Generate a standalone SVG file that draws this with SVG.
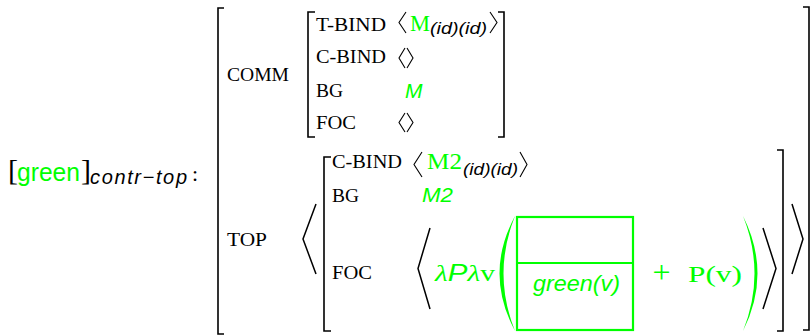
<svg xmlns="http://www.w3.org/2000/svg" width="810" height="336" viewBox="0 0 810 336">
<style>
.sc{font-family:"Liberation Serif",serif;font-size:18.5px;fill:#000}
.rm{font-family:"Liberation Serif",serif}
.ss{font-family:"Liberation Sans",sans-serif}
.it{font-style:italic}
.g{fill:#00ff00}
.k{fill:#000}
.br{fill:none;stroke:#000;stroke-width:1.6}
.ang{fill:none;stroke:#000;stroke-width:1.1}
.bang{fill:none;stroke:#000;stroke-width:1.5}
.box{fill:none;stroke:#00ff00;stroke-width:2.2}
.par{fill:#00ff00;stroke:none}
</style>
<rect width="810" height="336" fill="#fff"/>

<g id="label">
<text class="rm k" x="8" y="180" font-size="30">[</text>
<text class="ss g" x="17" y="181" font-size="25" textLength="63" lengthAdjust="spacingAndGlyphs">green</text>
<text class="rm k" x="81" y="180" font-size="30">]</text>
<text class="ss it k" x="90" y="184" font-size="20" textLength="97" lengthAdjust="spacing">contr−top</text>
<text class="rm k" x="192" y="181" font-size="22">:</text>
</g>

<g id="outer-avm">
<path class="br" d="M224,8 H218 V334 H224"/>
<path class="br" d="M803,7 H809 V330 H803"/>
</g>

<g id="comm">
<text class="sc" x="227" y="81" textLength="62" lengthAdjust="spacingAndGlyphs">COMM</text>
<path class="br" d="M315,12 H308 V137 H315"/>
<path class="br" d="M498,12 H504 V137 H498"/>
<text class="sc" x="316" y="31" textLength="70" lengthAdjust="spacingAndGlyphs">T-BIND</text>
<text class="sc" x="316" y="63" textLength="70" lengthAdjust="spacingAndGlyphs">C-BIND</text>
<text class="sc" x="316" y="97" textLength="27" lengthAdjust="spacingAndGlyphs">BG</text>
<text class="sc" x="316" y="129" textLength="40" lengthAdjust="spacingAndGlyphs">FOC</text>
<polyline class="ang" points="406,12 399,22.5 406,33"/>
<text class="rm g" x="410" y="31" font-size="22.5">M</text>
<text class="ss it k" x="430" y="34" font-size="16" textLength="57" lengthAdjust="spacingAndGlyphs">(id)(id)</text>
<polyline class="ang" points="490,12 497,22.5 490,33"/>
<polyline class="ang" points="405,48 399,58 405,68"/>
<polyline class="ang" points="407,48 413,58 407,68"/>
<text class="ss it g" x="405" y="98" font-size="21">M</text>
<polyline class="ang" points="405,113 399,122.5 405,132"/>
<polyline class="ang" points="407,113 413,122.5 407,132"/>
</g>

<g id="top">
<text class="sc" x="227" y="246" textLength="40" lengthAdjust="spacingAndGlyphs">TOP</text>
<polyline class="bang" points="316,204 303,239 316,274"/>
<polyline class="bang" points="792,204 803,239 792,274"/>
<path class="br" d="M331,157 H324 V331 H331"/>
<path class="br" d="M777,150 H783 V331 H777"/>
<text class="sc" x="332" y="168" textLength="70" lengthAdjust="spacingAndGlyphs">C-BIND</text>
<text class="sc" x="332" y="202" textLength="27" lengthAdjust="spacingAndGlyphs">BG</text>
<text class="sc" x="332" y="279" textLength="40" lengthAdjust="spacingAndGlyphs">FOC</text>
<polyline class="ang" points="422,152 414,164.5 422,177"/>
<text class="rm g" x="427" y="169" font-size="22.5" textLength="35" lengthAdjust="spacingAndGlyphs">M2</text>
<text class="ss it k" x="463" y="175" font-size="16" textLength="55" lengthAdjust="spacingAndGlyphs">(id)(id)</text>
<polyline class="ang" points="520,152 527,164.5 520,177"/>
<text class="ss it g" x="422" y="202" font-size="21" textLength="31" lengthAdjust="spacingAndGlyphs">M2</text>
</g>

<g id="foc-value">
<polyline class="bang" points="430,228 418,268.5 430,309"/>
<text class="g" x="435" y="281" font-size="23" textLength="60" lengthAdjust="spacingAndGlyphs"><tspan class="rm it">λ</tspan><tspan class="ss it">P</tspan><tspan class="rm it">λ</tspan><tspan class="rm">v</tspan></text>
<path class="par" d="M515,216 Q484,273.5 515,331 Q492,273.5 515,216 Z"/>
<rect class="box" x="517" y="217" width="116" height="113"/>
<line class="box" x1="517" y1="263" x2="633" y2="263"/>
<text class="ss it g" x="533" y="291" font-size="22" textLength="87" lengthAdjust="spacingAndGlyphs">green(v)</text>
<text class="rm g" x="661.5" y="283" font-size="32" text-anchor="middle">+</text>
<text class="rm g" x="688" y="282" font-size="23" textLength="54" lengthAdjust="spacingAndGlyphs">P(v)</text>
<path class="par" d="M743,216 Q772,273.5 743,331 Q766,273.5 743,216 Z"/>
<polyline class="bang" points="763,228 776,268.5 763,309"/>
</g>
</svg>
